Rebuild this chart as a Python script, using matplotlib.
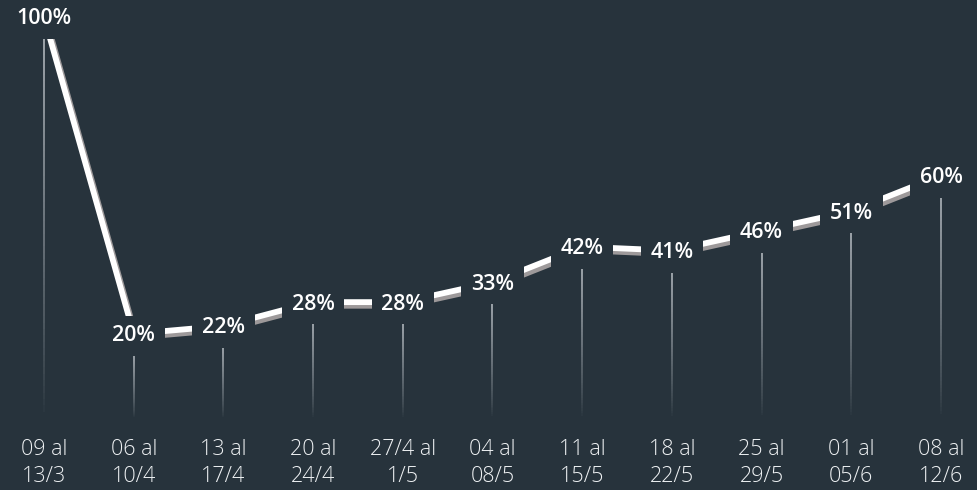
import matplotlib
matplotlib.use("Agg")
import matplotlib.pyplot as plt
import matplotlib.patheffects as pe
from matplotlib.collections import LineCollection
import numpy as np

categories = ["09 al\n13/3", "06 al\n10/4", "13 al\n17/4", "20 al\n24/4", "27/4 al\n1/5",
              "04 al\n08/5", "11 al\n15/5", "18 al\n22/5", "25 al\n29/5", "01 al\n05/6", "08 al\n12/6"]
values = [100, 20, 22, 28, 28, 33, 42, 41, 46, 51, 60]
value_labels = ["100%", "20%", "22%", "28%", "28%", "33%", "42%", "41%", "46%", "51%", "60%"]

BG = "#27333c"
FONT = "Open Sans"

fig = plt.figure(figsize=(9.78, 4.9), dpi=100, facecolor=BG)
ax = fig.add_axes([0, 0, 1, 1])
ax.set_facecolor(BG)
ax.set_xlim(-0.4905, 10.4125)
ax.set_ylim(-19.44, 104.29)
ax.axis("off")

x = np.arange(len(values))

# vertical gradient guide lines
for xi, v in zip(x, values):
    top = v - 4.9
    bottom = -1.3
    n = 60
    ys = np.linspace(top, bottom, n + 1)
    segs = [[(xi, ys[k]), (xi, ys[k + 1])] for k in range(n)]
    alphas = np.linspace(0.85, 0.0, n) ** 0.8
    cols = [(0.82, 0.84, 0.86, a) for a in alphas]
    lc = LineCollection(segs, colors=cols, linewidths=1.1, zorder=1)
    ax.add_collection(lc)

# main line with shadow
ax.plot(x, values, color="white", lw=4.2, zorder=2, solid_joinstyle="miter",
        solid_capstyle="butt",
        path_effects=[pe.SimpleLineShadow(offset=(1.8, -2.6), shadow_color="#9d999a", alpha=1.0),
                      pe.Normal()])

# value labels with background boxes masking the line
for xi, v, lab in zip(x, values, value_labels):
    ax.text(xi, v - 0.5, lab, ha="center", va="center", fontsize=15.5, fontweight="semibold",
            color="white", family=FONT, zorder=5,
            bbox=dict(boxstyle="square,pad=0.45", facecolor=BG, edgecolor="none"))

# category labels
for xi, c in zip(x, categories):
    ax.text(xi, -12.6, c, ha="center", va="center", fontsize=15.5, fontweight="light",
            color="#eef1f3", family=FONT, linespacing=1.42, zorder=5)

fig.savefig("out.png", dpi=100, facecolor=BG)
